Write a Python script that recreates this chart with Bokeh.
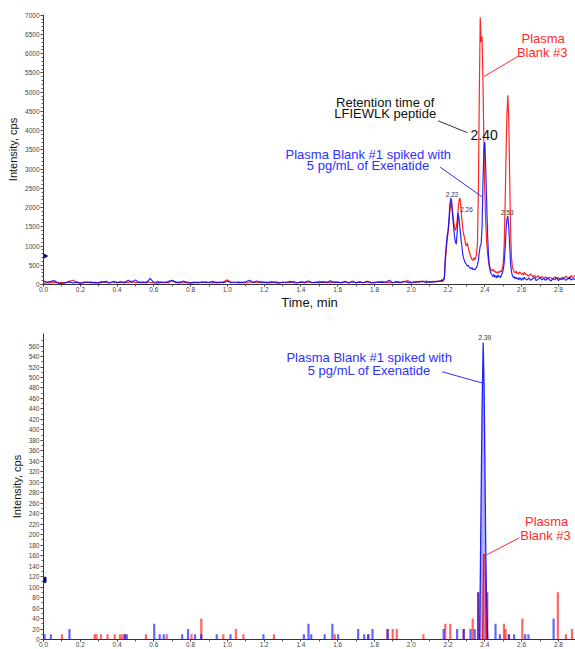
import numpy as np
from bokeh.plotting import figure
from bokeh.layouts import column
from bokeh.models import Range1d, SingleIntervalTicker, FixedTicker, PrintfTickFormatter, Label
from bokeh.embed import file_html
from bokeh.resources import INLINE

# ---------------- data: top chromatogram (XIC) ----------------
BASE_T0, BASE_DT = 0.0, 0.02
PEAK_T0, PEAK_DT = 2.16, 0.005
TAIL_T0, TAIL_DT = 2.63, 0.01

blue_base = [90, 60, 80, 100, 40, 20, 50, 70, 40, 60,
             30, 50, 70, 40, 55, 35, 60, 80, 45, 65,
             50, 75, 40, 110, 50, 120, 45, 70, 40, 160,
             50, 35, 60, 45, 80, 110, 55, 40, 90, 50,
             35, 60, 40, 70, 45, 55, 80, 40, 60, 50,
             85, 45, 65, 40, 55, 70, 110, 50, 90, 45,
             60, 40, 75, 50, 35, 65, 45, 80, 50, 40,
             70, 55, 90, 45, 60, 40, 75, 50, 95, 45,
             60, 50, 80, 40, 65, 50, 70, 45, 85, 55,
             40, 70, 50, 60, 110, 45, 70, 50, 85, 55,
             40, 75, 60, 90, 50, 70, 60, 80]
red_base = [30, 50, 40, 60, 35, 55, 45, 80, 110, 60,
            40, 65, 45, 70, 40, 55, 75, 50, 40, 85,
            55, 45, 70, 50, 90, 45, 60, 40, 70, 55,
            45, 80, 50, 60, 40, 95, 55, 70, 45, 60,
            50, 40, 65, 45, 75, 50, 40, 60, 45, 70,
            120, 60, 45, 70, 50, 40, 65, 55, 45, 80,
            50, 60, 40, 70, 55, 45, 65, 50, 85, 45,
            60, 40, 70, 55, 45, 80, 50, 60, 40, 75,
            55, 45, 65, 50, 90, 45, 60, 50, 70, 40,
            65, 55, 80, 50, 60, 45, 75, 55, 65, 100,
            60, 50, 80, 65, 90, 70, 85, 75]
blue_peak = [80, 110, 70, 120, 150, 700, 1000, 1250, 1400, 1700,
             2100, 2250, 2150, 1800, 1500, 1250, 1100, 1050, 1400, 1850,
             1700, 1450, 1200, 1000, 780, 680, 600, 560, 520, 480,
             500, 450, 430, 410, 440, 390, 400, 380, 420, 440,
             520, 620, 850, 1000, 1050, 1500, 2700, 3500, 3700, 3000,
             2100, 1300, 750, 450, 330, 280, 240, 200, 260, 190,
             230, 170, 250, 200, 220, 180, 240, 300, 380, 550,
             900, 1400, 1700, 1780, 1500, 1000, 550, 320, 230, 180,
             200, 150, 190, 140, 170, 120, 180, 140, 110, 170,
             130, 190, 150]
red_peak = [100, 130, 90, 150, 180, 600, 900, 1150, 1350, 1600,
            1900, 2150, 2050, 1850, 1650, 1500, 1400, 1500, 1700, 1950,
            2200, 2250, 2000, 1700, 1450, 1300, 1200, 1050, 1000, 1080,
            950, 850, 780, 700, 650, 620, 700, 640, 680, 800,
            1100, 2500, 5000, 6950, 6300, 6450, 5200, 3600, 2400, 1600,
            1100, 800, 600, 480, 420, 380, 350, 400, 340, 360,
            300, 330, 290, 340, 310, 360, 330, 420, 550, 1000,
            2000, 3300, 4400, 4920, 4300, 2800, 1400, 700, 450, 380,
            330, 300, 350, 280, 310, 270, 330, 290, 260, 300,
            250, 320, 270]
blue_tail = [120, 170, 110, 150, 190, 100, 140, 180, 120, 160,
             110, 170, 130, 90, 160, 120, 180, 100, 150, 130,
             170, 110, 140, 190, 120, 150, 130]
red_tail = [250, 220, 280, 200, 240, 180, 230, 170, 210, 160,
            200, 150, 190, 170, 140, 200, 160, 180, 130, 190,
            150, 220, 170, 140, 230, 180, 240]

# ---------------- data: bottom chromatogram ----------------
bot_blue_t = [0.006, 0.04, 0.141, 0.442, 0.453, 0.602, 0.632, 0.654, 0.754, 0.786,
              0.824, 0.858, 0.942, 1.017, 1.196, 1.416, 1.441, 1.456, 1.529, 1.571,
              1.602, 1.711, 1.744, 1.766, 1.789, 1.871, 2.176, 2.249, 2.285, 2.322,
              2.345, 2.364, 2.413, 2.458, 2.482, 2.531, 2.559, 2.619, 2.637, 2.774]
bot_blue_v = [10, 10, 20, 10, 10, 30, 10, 10, 10, 20,
              10, 10, 10, 10, 10, 10, 30, 10, 10, 30,
              10, 20, 10, 10, 20, 20, 20, 20, 20, 20,
              20, 90, 90, 30, 10, 10, 10, 10, 10, 40]
bot_red_t = [0.10, 0.278, 0.288, 0.312, 0.348, 0.387, 0.416, 0.429, 0.442, 0.557,
             0.67, 0.805, 0.858, 0.978, 1.046, 1.087, 1.253, 1.584, 1.766, 1.871,
             1.899, 1.921, 2.066, 2.185, 2.212, 2.285, 2.334, 2.364, 2.504, 2.513,
             2.531, 2.604, 2.797, 2.841, 2.874]
bot_red_v = [10, 10, 10, 10, 10, 10, 10, 10, 10, 10,
             10, 10, 40, 10, 20, 10, 10, 10, 10, 20,
             20, 20, 10, 30, 30, 20, 40, 90, 30, 20,
             10, 40, 90, 10, 20]
bot_blue_peak_t = [2.372, 2.378, 2.385, 2.391, 2.396, 2.400, 2.405, 2.410, 2.416]
bot_blue_peak_v = [0, 213, 443, 567, 480, 348, 169, 60, 0]
bot_red_peak_t = [2.388, 2.393, 2.402, 2.408]
bot_red_peak_v = [0, 162, 162, 0]

bot_y_ticks = list(range(0, 561, 20))
bot_y_minor = list(range(0, 571, 10))

x_ticks_step = 0.2
BLUE = "#0000ff"
RED = "#ff0000"
BLUE_TXT = "#2f2fff"
RED_TXT = "#ff2a2a"
FONT = "Liberation Sans"


def grid(t0, dt, n):
    return np.round(t0 + dt * np.arange(n), 4)


t_blue = np.concatenate([grid(BASE_T0, BASE_DT, len(blue_base)),
                         grid(PEAK_T0, PEAK_DT, len(blue_peak)),
                         grid(TAIL_T0, TAIL_DT, len(blue_tail))])
v_blue = np.array(blue_base + blue_peak + blue_tail)
t_red = np.concatenate([grid(BASE_T0, BASE_DT, len(red_base)),
                        grid(PEAK_T0, PEAK_DT, len(red_peak)),
                        grid(TAIL_T0, TAIL_DT, len(red_tail))])
v_red = np.array(red_base + red_peak + red_tail)


def style(p, y_ticker):
    p.xgrid.visible = False
    p.ygrid.visible = False
    p.outline_line_color = None
    p.background_fill_color = "white"
    p.xaxis.ticker = SingleIntervalTicker(interval=x_ticks_step, num_minor_ticks=2)
    p.xaxis.formatter = PrintfTickFormatter(format="%.1f")
    p.yaxis.ticker = y_ticker
    for ax in (p.xaxis[0], p.yaxis[0]):
        ax.axis_line_color = "#333333"
        ax.major_tick_line_color = "#333333"
        ax.minor_tick_line_color = "#555555"
        ax.major_tick_in = 0
        ax.major_tick_out = 3
        ax.minor_tick_in = 0
        ax.minor_tick_out = 2
        ax.major_label_text_font = FONT
        ax.major_label_text_font_size = "6.5px"
        ax.major_label_text_color = "#444444"
        ax.axis_label_text_font = FONT
        ax.axis_label_text_font_style = "normal"
        ax.axis_label_text_color = "#111111"
    p.xaxis.major_label_standoff = 0
    p.yaxis.major_label_standoff = 1
    p.yaxis.axis_label = "Intensity, cps"
    p.yaxis.axis_label_text_font_size = "11px"
    p.yaxis.axis_label_standoff = 3


X_END = 2.893

# ---------------- top figure ----------------
top = figure(width=575, height=312, x_range=Range1d(0, X_END), y_range=Range1d(0, 7020),
             output_backend="svg", toolbar_location=None,
             min_border_left=43, min_border_right=0, min_border_top=14, min_border_bottom=25)
style(top, SingleIntervalTicker(interval=500, num_minor_ticks=5))
top.xaxis.axis_label = "Time, min"
top.xaxis.axis_label_text_font_size = "13px"
top.xaxis.axis_label_standoff = 0
top.xaxis.major_tick_out = 2

top.line(t_red, v_red, line_color=RED, line_width=1.2, line_alpha=0.85)
top.line(t_blue, v_blue, line_color=BLUE, line_width=1.2, line_alpha=0.85)
top.scatter([0], [740], marker="triangle", angle=-np.pi / 2, size=7, color="#000080")

top_callouts = dict(x0=[2.587, 2.146, 2.157], y0=[5949, 4256, 3051],
                    x1=[2.396, 2.304, 2.387], y1=[5410, 3949, 2274])
top.segment(x0=top_callouts["x0"], y0=top_callouts["y0"], x1=top_callouts["x1"],
            y1=top_callouts["y1"], line_color=[RED_TXT, "#333333", BLUE_TXT], line_width=1)

top_texts = [
    ("Plasma", 2.717, 6385, "13px", RED_TXT),
    ("Blank #3", 2.712, 6026, "13px", RED_TXT),
    ("Retention time of", 1.858, 4744, "13px", "#111111"),
    ("LFIEWLK peptide", 1.858, 4436, "13px", "#111111"),
    ("2.40", 2.396, 3897, "14px", "#111111"),
    ("Plasma Blank #1 spiked with", 1.766, 3385, "13px", BLUE_TXT),
    ("5 pg/mL of Exenatide", 1.766, 3085, "13px", BLUE_TXT),
    ("2.22", 2.222, 2330, "6.5px", "#333333"),
    ("2.26", 2.300, 1960, "6.5px", "#333333"),
    ("2.53", 2.522, 1860, "6.5px", "#333333"),
]
for txt, x, y, fs, col in top_texts:
    top.add_layout(Label(x=x, y=y, text=txt, text_align="center", text_baseline="middle",
                         text_font=FONT, text_font_size=fs, text_color=col))

# ---------------- bottom figure ----------------
bot = figure(width=575, height=337, x_range=Range1d(0, X_END), y_range=Range1d(0, 584),
             output_backend="svg", toolbar_location=None,
             min_border_left=43, min_border_right=0, min_border_top=21, min_border_bottom=10)
style(bot, FixedTicker(ticks=bot_y_ticks, minor_ticks=bot_y_minor))
bot.xaxis.major_tick_out = 2

bot.segment(x0=bot_red_t, y0=[0] * len(bot_red_t), x1=bot_red_t, y1=bot_red_v,
            line_color=RED, line_width=2.2, line_alpha=0.6)
bot.segment(x0=bot_blue_t, y0=[0] * len(bot_blue_t), x1=bot_blue_t, y1=bot_blue_v,
            line_color=BLUE, line_width=2.2, line_alpha=0.6)
bot.varea(x=bot_blue_peak_t, y1=0, y2=bot_blue_peak_v, fill_color=BLUE, fill_alpha=0.3)
bot.line(bot_blue_peak_t, bot_blue_peak_v, line_color=BLUE, line_width=1.3, line_alpha=0.85)
bot.varea(x=bot_red_peak_t, y1=0, y2=bot_red_peak_v, fill_color=RED, fill_alpha=0.3)
bot.line(bot_red_peak_t, bot_red_peak_v, line_color=RED, line_width=1.3, line_alpha=0.85)
bot.scatter([0], [114], marker="square", size=5, color="#000080")

bot_callouts = dict(x0=[2.168, 2.587], y0=[511, 194], x1=[2.391, 2.412], y1=[489, 162])
bot.segment(x0=bot_callouts["x0"], y0=bot_callouts["y0"], x1=bot_callouts["x1"],
            y1=bot_callouts["y1"], line_color=[BLUE_TXT, RED_TXT], line_width=1)

bot_texts = [
    ("2.39", 2.40, 577, "6.5px", "#333333"),
    ("Plasma Blank #1 spiked with", 1.771, 539, "13px", BLUE_TXT),
    ("5 pg/mL of Exenatide", 1.771, 513, "13px", BLUE_TXT),
    ("Plasma", 2.736, 226, "13px", RED_TXT),
    ("Blank #3", 2.730, 198, "13px", RED_TXT),
]
for txt, x, y, fs, col in bot_texts:
    bot.add_layout(Label(x=x, y=y, text=txt, text_align="center", text_baseline="middle",
                         text_font=FONT, text_font_size=fs, text_color=col))

layout = column(top, bot, spacing=0)
open("out.html", "w").write(file_html(layout, INLINE))
